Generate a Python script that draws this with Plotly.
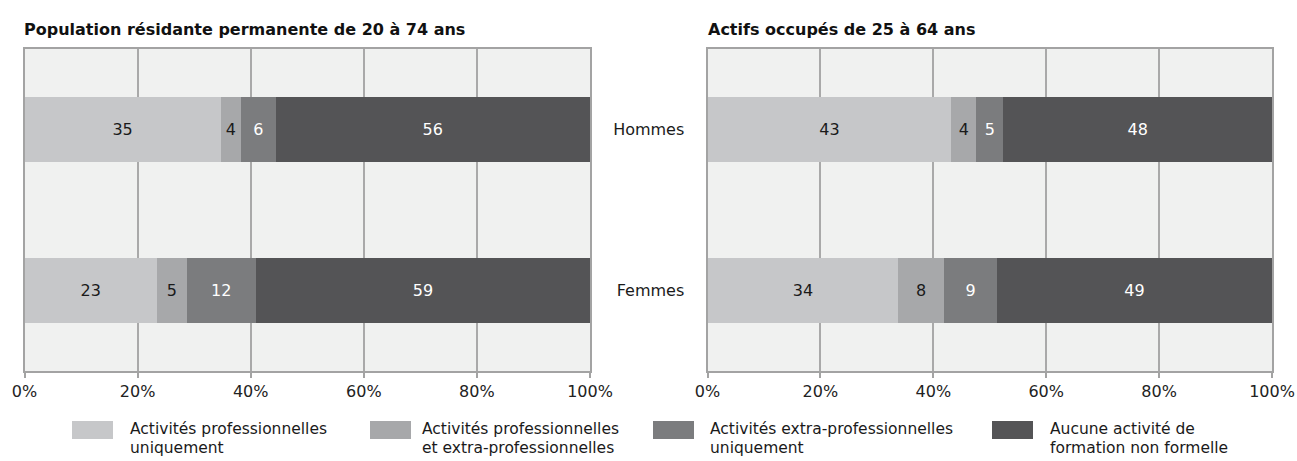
import plotly.graph_objects as go

W, H = 1297, 461

categories = ["Hommes", "Femmes"]
series_names = [
    "Activités professionnelles<br>uniquement",
    "Activités professionnelles<br>et extra-professionnelles",
    "Activités extra-professionnelles<br>uniquement",
    "Aucune activité de<br>formation non formelle",
]
# Left panel: Population résidante permanente de 20 à 74 ans
pop_prof_only = [34.7, 23.4]
pop_prof_extra = [3.6, 5.3]
pop_extra_only = [6.1, 12.2]
pop_none = [55.6, 59.1]
# Right panel: Actifs occupés de 25 à 64 ans
act_prof_only = [43.2, 33.8]
act_prof_extra = [4.4, 8.1]
act_extra_only = [4.8, 9.4]
act_none = [47.6, 48.7]

panel_titles = ["Population résidante permanente de 20 à 74 ans", "Actifs occupés de 25 à 64 ans"]
tick_vals = [0, 20, 40, 60, 80, 100]
tick_text = ["0%", "20%", "40%", "60%", "80%", "100%"]

colors = ["#c6c7c9", "#a7a8aa", "#7b7c7e", "#545456"]
text_colors = ["#1a1a1a", "#1a1a1a", "#ffffff", "#ffffff"]
FONT = "DejaVu Sans"

def px_x(p):
    return p / W

def px_y(p):
    return 1 - p / H

fig = go.Figure()
panels = [
    ([pop_prof_only, pop_prof_extra, pop_extra_only, pop_none], "x", "y"),
    ([act_prof_only, act_prof_extra, act_extra_only, act_none], "x2", "y2"),
]
for vals, xa, ya in panels:
    for i, v in enumerate(vals):
        fig.add_trace(go.Bar(
            y=categories, x=v, orientation="h", name=series_names[i],
            marker=dict(color=colors[i], line=dict(width=0)),
            texttemplate="%{x:.0f}", textposition="inside", insidetextanchor="middle",
            textfont=dict(size=16, color=text_colors[i], family=FONT),
            constraintext="none", xaxis=xa, yaxis=ya, showlegend=False, width=0.4,
            hoverinfo="skip",
        ))

ydom = [px_y(371), px_y(49)]
axis_common = dict(
    range=[0, 100], tickvals=tick_vals, ticktext=tick_text,
    showgrid=True, gridcolor="#a9a9a9", gridwidth=1.5,
    showline=True, linecolor="#a3a3a3", linewidth=2, mirror=True,
    ticks="outside", ticklen=5, tickcolor="#a3a3a3", tickwidth=1.5,
    tickfont=dict(size=16, color="#222", family=FONT), zeroline=False,
    automargin=False, fixedrange=True,
)
yaxis_common = dict(
    categoryorder="array", categoryarray=categories, autorange="reversed",
    showgrid=False, showline=True, linecolor="#a3a3a3", linewidth=2, mirror=True,
    zeroline=False, automargin=False, fixedrange=True,
)
fig.update_layout(
    width=W, height=H, margin=dict(l=0, r=0, t=0, b=0),
    paper_bgcolor="white", plot_bgcolor="#f0f1f0",
    barmode="stack", bargap=0.6,
    font=dict(family=FONT, color="#1a1a1a"),
    xaxis=dict(domain=[px_x(24.5), px_x(590)], anchor="y", **axis_common),
    yaxis=dict(domain=ydom, anchor="x", showticklabels=False, **yaxis_common),
    xaxis2=dict(domain=[px_x(707.5), px_x(1272)], anchor="y2", **axis_common),
    yaxis2=dict(domain=ydom, anchor="x2", showticklabels=True, ticks="",
                ticklabelstandoff=18,
                tickfont=dict(size=16, color="#1a1a1a", family=FONT), **yaxis_common),
)

# Panel titles
for t, x0 in zip(panel_titles, [22, 706]):
    fig.add_annotation(text="<b>" + t + "</b>", x=px_x(x0), y=px_y(30), xref="paper", yref="paper",
                       xanchor="left", yanchor="middle", showarrow=False,
                       font=dict(size=16, color="#111", family=FONT))

# Legend
leg_rect_x = [72, 370, 653, 992]
leg_text_x = [128, 420, 708, 1048]
line_y = [429, 448]
for i in range(4):
    fig.add_shape(type="rect", xref="paper", yref="paper",
                  x0=px_x(leg_rect_x[i]), x1=px_x(leg_rect_x[i] + 41),
                  y0=px_y(439), y1=px_y(421), fillcolor=colors[i], line=dict(width=0))
    for j, line in enumerate(series_names[i].split("<br>")):
        fig.add_annotation(text=line, x=px_x(leg_text_x[i]), y=px_y(line_y[j]),
                           xref="paper", yref="paper", xanchor="left", yanchor="middle",
                           align="left", showarrow=False,
                           font=dict(size=15.5, color="#1a1a1a", family=FONT))

fig.write_html("out.html", config={"displayModeBar": False},
               post_script="document.body.style.margin='0';document.body.style.overflow='hidden';")
